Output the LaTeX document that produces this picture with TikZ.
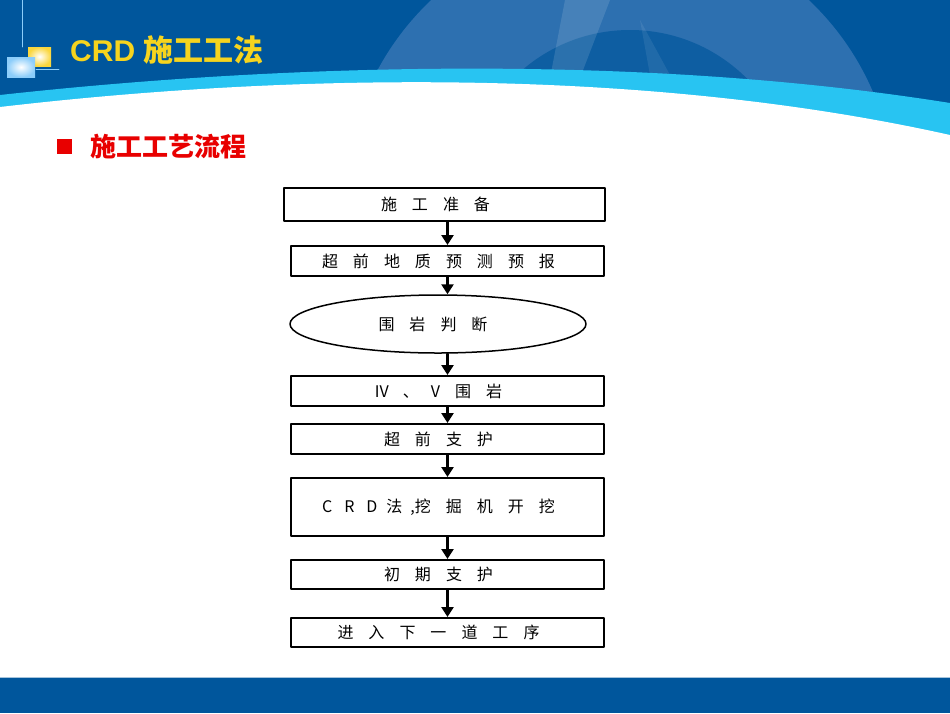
\documentclass[tikz,border=0pt]{standalone}
\usepackage{fontspec}
\setmainfont{Liberation Sans}
\newfontfamily\cjk{Noto Sans CJK SC}
\usetikzlibrary{arrows.meta,shapes.geometric}

\definecolor{hdrblue}{RGB}{0,86,156}
\definecolor{globeblue}{RGB}{45,112,176}
\definecolor{bandcyan}{RGB}{40,196,242}
\definecolor{titleyellow}{RGB}{246,212,30}
\definecolor{iconyellow}{RGB}{250,214,60}
\definecolor{iconblue}{RGB}{140,205,250}
\definecolor{bulletred}{RGB}{232,0,0}

\newcommand{\zg}[1][15pt]{\hspace{#1}}

\begin{document}
\begin{tikzpicture}[line cap=round,line join=round,>={Triangle[width=12pt,length=10pt]},x=1pt,y=-1pt,
	boxtext/.style={draw,line width=2pt,inner sep=0pt,font=\cjk\fontsize{16}{16}\selectfont},
	procbox/.style={boxtext,rectangle,minimum width=313pt,minimum height=30pt,execute at end node={\hspace{18pt}}},
	judge/.style={boxtext,ellipse,line width=1.5pt,minimum width=296pt,minimum height=58pt,execute at end node={\hspace{10pt}}},
	flow/.style={->,line width=2.5pt}]
		\useasboundingbox (0,0) rectangle (950,713);
		\fill[white] (0,0) rectangle (950,713);
		%%%%%%%%%%%%%%% H E A D E R %%%%%%%%%%%%%%%%
		\fill[hdrblue] (0,0) rectangle (950,140);
		\begin{scope}
			\clip (0,0) rectangle (950,140);
			\fill[globeblue] (620,200) circle (275);
			\fill[hdrblue!70!globeblue] (630,195) circle (165);
			\fill[white,opacity=0.12] (565,0) -- (610,0) -- (560,130) -- (540,130) -- cycle;
			\fill[white,opacity=0.08] (640,20) -- (700,130) -- (660,130) -- cycle;
		\end{scope}
		%band
		\fill[bandcyan] (0,95) .. controls (300,62) and (650,55) .. (950,103) -- (950,140) -- (0,140) -- cycle;
		\fill[white] (0,107) .. controls (300,72) and (650,68) .. (950,135) -- (950,160) -- (0,160) -- cycle;
		%footer
		\fill[hdrblue] (0,678) rectangle (950,713);
		\draw[hdrblue!35,line width=1pt] (0,677.5) -- (950,677.5);
		%%%%%%%%%%%%%%% T I T L E %%%%%%%%%%%%%%%%
		\draw[iconblue,line width=0.8pt] (22,0) -- (22,47);
		\shade[inner color=white,outer color=iconyellow] (28,47) rectangle (51,66);
		\shade[inner color=white,outer color=iconblue] (7,57) rectangle (35,77);
		\draw[iconblue,line width=0.8pt] (36,69) -- (59,69);
		\node[anchor=west,inner sep=0pt,text=titleyellow,font=\bfseries\fontsize{30}{30}\selectfont] (title) at (70,50) {CRD \cjk 施工工法};
		%subtitle
		\fill[bulletred] (57,139) rectangle (72,154);
		\node[anchor=west,inner sep=0pt,text=bulletred,font=\cjk\bfseries\fontsize{26}{26}\selectfont] (subtitle) at (90,147) {施工工艺流程};
		%%%%%%%%%%%%%%% F L O W %%%%%%%%%%%%%%%%
		\node[procbox,minimum width=321pt,minimum height=33pt] (zhunbei) at (444.5,204.5) {施\zg 工\zg 准\zg 备};
		\node[procbox] (yubao) at (447.5,261) {超\zg 前\zg 地\zg 质\zg 预\zg 测\zg 预\zg 报};
		\node[judge] (panduan) at (438,324) {围\zg 岩\zg 判\zg 断};
		\node[procbox] (weiyan) at (447.5,391) {IV\zg[14pt]、\zg[12pt]V\zg 围\zg 岩};
		\node[procbox] (zhihu) at (447.5,439) {超\zg 前\zg 支\zg 护};
		\node[procbox,minimum height=58pt] (kaiwa) at (447.5,507) {C\zg[12pt]R\zg[12pt]D\zg[9pt]法\zg[8pt],挖\zg 掘\zg 机\zg 开\zg 挖};
		\node[procbox,minimum height=29pt] (chuqi) at (447.5,574.5) {初\zg 期\zg 支\zg 护};
		\node[procbox,minimum height=29pt] (xiadao) at (447.5,632.5) {进\zg 入\zg 下\zg 一\zg 道\zg 工\zg 序};
		%arrows
		\draw[flow] (zhunbei.south -| yubao) -- (yubao.north);
		\draw[flow] (yubao.south) -- (yubao.south |- panduan.north);
		\draw[flow] (panduan.south -| weiyan) -- (weiyan.north);
		\draw[flow] (weiyan) -- (zhihu);
		\draw[flow] (zhihu) -- (kaiwa);
		\draw[flow] (kaiwa) -- (chuqi);
		\draw[flow] (chuqi) -- (xiadao);
	\end{tikzpicture}
\end{document}
